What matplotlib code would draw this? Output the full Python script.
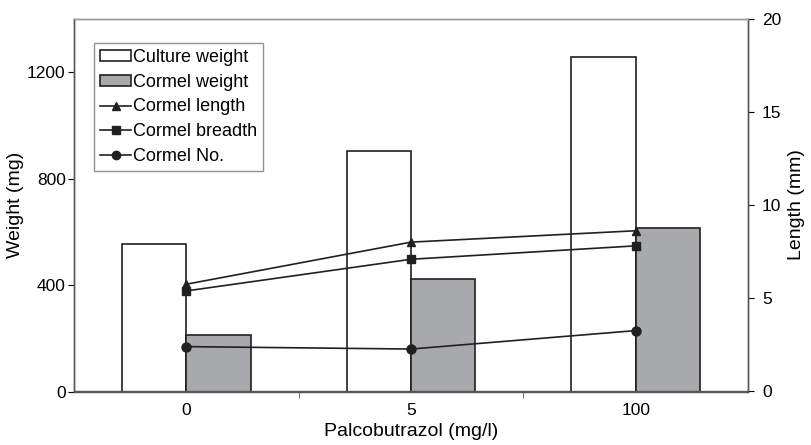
import matplotlib
matplotlib.use("Agg")
import matplotlib.pyplot as plt
import numpy as np
from matplotlib.patches import Patch
from matplotlib.lines import Line2D

plt.rcParams['font.family'] = ['Liberation Sans', 'DejaVu Sans']

categories = ['0', '5', '100']
culture_weight = [556, 904, 1257]
cormel_weight = [212, 424, 615]
cormel_length = [5.76, 8.02, 8.63]
cormel_breadth = [5.4, 7.1, 7.82]
cormel_no = [2.41, 2.28, 3.27]

fig = plt.figure(figsize=(8.12, 4.45), dpi=100)
ax = fig.add_axes([74/812, 1-391.5/445, 674/812, 372.5/445])
ax2 = ax.twinx()

x = np.arange(len(categories))
w = 0.287
gray = '#a7a9ac'
ax.bar(x - w/2, culture_weight, width=w, color='white', edgecolor='#231f20', linewidth=1.2, zorder=2)
ax.bar(x + w/2, cormel_weight, width=w, color=gray, edgecolor='#231f20', linewidth=1.2, zorder=2)

lc = '#231f20'
ax2.plot(x, cormel_length, color=lc, marker='^', markersize=6, linewidth=1.2)
ax2.plot(x, cormel_breadth, color=lc, marker='s', markersize=6, linewidth=1.2)
ax2.plot(x, cormel_no, color=lc, marker='o', markersize=6.5, linewidth=1.2)

ax.set_xlim(-0.5, 2.5)
ax.set_ylim(0, 1400)
ax2.set_ylim(0, 20)
ax.set_yticks([0, 400, 800, 1200])
ax2.set_yticks([0, 5, 10, 15, 20])
ax.set_xticks(x)
ax.set_xticklabels(categories)
ax.set_xticks([0.5, 1.5], minor=True)
ax.tick_params(axis='x', which='major', length=0, labelsize=12.5, pad=8)
ax.tick_params(axis='x', which='minor', length=4, direction='out', color='#555555')
ax.tick_params(axis='y', length=4, direction='out', labelsize=12.5, pad=2)
ax2.tick_params(axis='y', length=4, direction='out', labelsize=12.5, pad=6)

for a in (ax, ax2):
    for s in a.spines.values():
        s.set_color('#555555')
        s.set_linewidth(1.0)
    a.spines['top'].set_color('#999999')

fig.text(411/812, 1-432/445, 'Palcobutrazol (mg/l)', fontsize=14, ha='center', va='center')
fig.text(16/812, 1-205/445, 'Weight (mg)', fontsize=14, ha='center', va='center', rotation=90)
fig.text(797/812, 1-205/445, 'Length (mm)', fontsize=14, ha='center', va='center', rotation=90)

handles = [
    Patch(facecolor='white', edgecolor='#231f20', linewidth=1.2),
    Patch(facecolor=gray, edgecolor='#231f20', linewidth=1.2),
    Line2D([], [], color=lc, marker='^', markersize=6, linewidth=1.2),
    Line2D([], [], color=lc, marker='s', markersize=6, linewidth=1.2),
    Line2D([], [], color=lc, marker='o', markersize=6, linewidth=1.2),
]
labels = ['Culture weight', 'Cormel weight', 'Cormel length', 'Cormel breadth', 'Cormel No.']
leg = ax2.legend(handles, labels, loc='upper left', bbox_to_anchor=(0.0297, 0.9356),
                 borderaxespad=0, fancybox=False, frameon=True, fontsize=13,
                 handlelength=1.7, handleheight=0.55, handletextpad=0.1, labelspacing=0.42,
                 borderpad=0.35)
leg.get_frame().set_edgecolor('#777777')
leg.get_frame().set_linewidth(1.0)

fig.savefig('out.png', dpi=100)
